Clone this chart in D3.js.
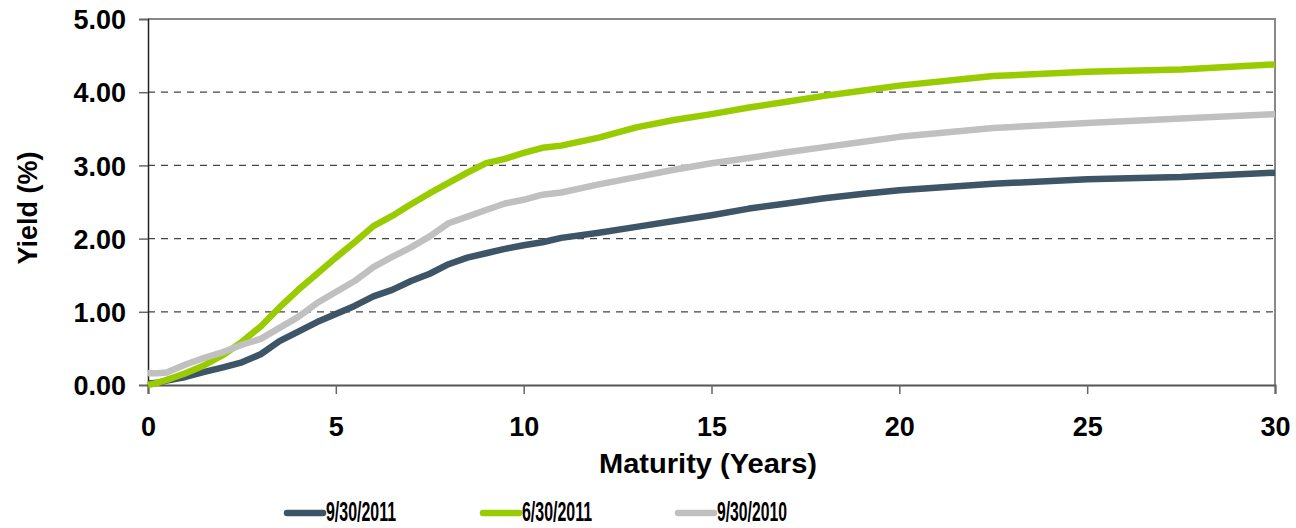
<!DOCTYPE html>
<html>
<head>
<meta charset="utf-8">
<script src="https://cdn.jsdelivr.net/npm/d3@7"></script>
<style>
  body { margin: 0; background: #fff; }
  svg text { font-family: "Liberation Sans", Arial, sans-serif; font-weight: bold; fill: #000; }
</style>
</head>
<body>
<svg id="chart" width="1296" height="528"></svg>
<script>
// maturities (years) shared by all curves
let maturities = [0, 0.25, 0.5, 1, 1.5, 2, 2.5, 3, 3.5, 4, 4.5, 5, 5.5, 6, 6.5, 7, 7.5, 8, 8.5, 9, 9.5, 10, 10.5, 11, 12, 13, 14, 15, 16, 17, 18, 19, 20, 22.5, 25, 27.5, 30]

let y2011sep = [0.02, 0.03, 0.06, 0.11, 0.18, 0.24, 0.31, 0.42, 0.60, 0.73, 0.86, 0.97, 1.08, 1.21, 1.30, 1.42, 1.52, 1.65, 1.74, 1.80, 1.86, 1.91, 1.95, 2.01, 2.08, 2.16, 2.24, 2.32, 2.41, 2.48, 2.55, 2.61, 2.66, 2.75, 2.81, 2.84, 2.90]
let y2011jun = [0.00, 0.03, 0.07, 0.16, 0.27, 0.41, 0.59, 0.80, 1.06, 1.30, 1.52, 1.74, 1.95, 2.17, 2.31, 2.47, 2.62, 2.76, 2.90, 3.03, 3.09, 3.17, 3.24, 3.27, 3.38, 3.52, 3.62, 3.70, 3.79, 3.87, 3.95, 4.02, 4.09, 4.22, 4.28, 4.31, 4.38]
let y2010sep = [0.16, 0.16, 0.17, 0.28, 0.37, 0.45, 0.55, 0.63, 0.78, 0.93, 1.12, 1.27, 1.42, 1.61, 1.75, 1.88, 2.03, 2.21, 2.30, 2.39, 2.48, 2.53, 2.60, 2.63, 2.74, 2.84, 2.94, 3.03, 3.10, 3.18, 3.25, 3.32, 3.39, 3.51, 3.58, 3.64, 3.70]

let seriesNames = ['9/30/2011', '6/30/2011', '9/30/2010']
let seriesValues = [y2011sep, y2011jun, y2010sep]
let seriesColors = ['#3d5566', '#99cc00', '#c0c0c0']

let xTicks = [0, 5, 10, 15, 20, 25, 30]
let yTicks = [0, 1, 2, 3, 4, 5]

let svg = d3.select('#chart')

let margin = {left: 148, right: 21, top: 19, bottom: 143}
let W = 1296, H = 528
let bodyW = W - margin.left - margin.right
let bodyH = H - margin.top - margin.bottom

let xScale = d3.scaleLinear().domain([0, 30]).range([margin.left, margin.left + bodyW])
let yScale = d3.scaleLinear().domain([0, 5]).range([margin.top + bodyH, margin.top])

// gridlines
svg.append('g').selectAll('line').data(yTicks.filter(d => d > 0 && d < 5))
  .enter().append('line')
  .attr('x1', xScale(0)).attr('x2', xScale(30))
  .attr('y1', d => yScale(d)).attr('y2', d => yScale(d))
  .attr('stroke', '#444').attr('stroke-width', 1.2)
  .attr('stroke-dasharray', '7,6')

// frame top/right
svg.append('path')
  .attr('d', `M${xScale(0)},${yScale(5)}H${xScale(30)}V${yScale(0)}`)
  .attr('fill', 'none').attr('stroke', '#888').attr('stroke-width', 2)

// axes
let axisY = d3.axisLeft(yScale).tickValues(yTicks).tickSize(9).tickFormat(d3.format('.2f'))
let gy = svg.append('g').attr('transform', `translate(${xScale(0)},0)`).call(axisY)
gy.select('.domain').attr('stroke', '#222').attr('stroke-width', 1.5)
gy.selectAll('.tick line').attr('stroke', '#666').attr('stroke-width', 1.5)
gy.selectAll('.tick text').attr('font-size', 27).attr('x', -22).attr('dy', '0.36em')
  .style('font-family', '"Liberation Sans", Arial, sans-serif').style('font-weight', 'bold').attr('fill', '#000')

let axisX = d3.axisBottom(xScale).tickValues(xTicks).tickSize(9).tickFormat(d3.format('d'))
let gx = svg.append('g').attr('transform', `translate(0,${yScale(0)})`).call(axisX)
gx.select('.domain').attr('stroke', '#555').attr('stroke-width', 2)
gx.selectAll('.tick line').attr('stroke', '#666').attr('stroke-width', 1.5)
gx.selectAll('.tick text').attr('font-size', 27).attr('y', 32).attr('dy', '0.71em')
  .style('font-family', '"Liberation Sans", Arial, sans-serif').style('font-weight', 'bold').attr('fill', '#000')

// curves
let lineGen = d3.line()
  .x((d, i) => xScale(maturities[i]))
  .y(d => yScale(d))

svg.append('g').selectAll('path').data(seriesValues)
  .enter().append('path')
  .attr('d', lineGen)
  .attr('fill', 'none')
  .attr('stroke', (d, i) => seriesColors[i])
  .attr('stroke-width', 6.5)
  .attr('stroke-linejoin', 'round')

// axis titles
svg.append('text')
  .attr('x', 708).attr('y', 473)
  .attr('text-anchor', 'middle').attr('font-size', 28)
  .attr('textLength', 218).attr('lengthAdjust', 'spacingAndGlyphs')
  .text('Maturity (Years)')

svg.append('text')
  .attr('transform', 'translate(37,208) rotate(-90)')
  .attr('text-anchor', 'middle').attr('font-size', 27)
  .text('Yield (%)')

// legend
let legX = [287, 483, 678]
let leg = svg.append('g').selectAll('g').data(seriesNames)
  .enter().append('g')
  .attr('transform', (d, i) => `translate(${legX[i]},513)`)

leg.append('line')
  .attr('x1', 0).attr('x2', 36).attr('y1', 0).attr('y2', 0)
  .attr('stroke', (d, i) => seriesColors[i])
  .attr('stroke-width', 6.5).attr('stroke-linecap', 'round')

leg.append('text')
  .attr('x', 39).attr('y', 8)
  .attr('font-size', 28)
  .attr('textLength', 70).attr('lengthAdjust', 'spacingAndGlyphs')
  .text(d => d)
</script>
</body>
</html>
